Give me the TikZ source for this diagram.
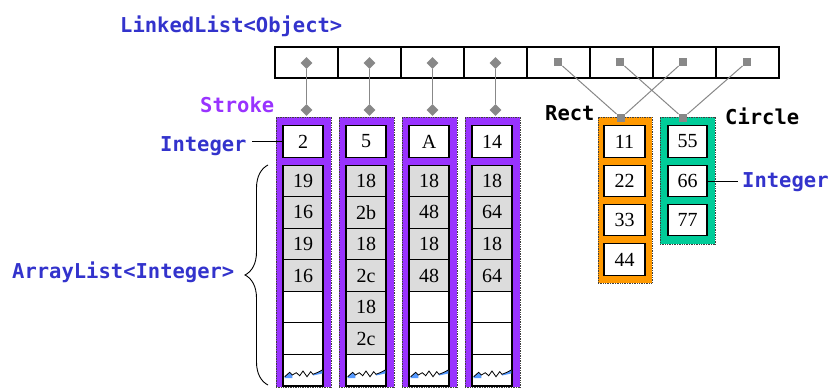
\documentclass[tikz,border=0pt]{standalone}
\usepackage{fontspec}
\setmainfont{Liberation Serif}
\setmonofont{DejaVu Sans Mono}
\usetikzlibrary{shapes.geometric,decorations.pathreplacing}
\definecolor{lblblue}{HTML}{3333CC}
\definecolor{strokepurple}{HTML}{9933FF}
\definecolor{rectorange}{HTML}{FF9900}
\definecolor{circteal}{HTML}{00CC99}
\definecolor{cellgray}{HTML}{DCDCDC}
\definecolor{linkgray}{HTML}{888888}
\definecolor{zigblue}{HTML}{5599FF}

\begin{document}
\begin{tikzpicture}[x=1pt,y=-1pt,
  lbl/.style={font=\fontsize{20.5}{24}\selectfont\ttfamily\bfseries, inner sep=0pt, anchor=base west},
  llcell/.style={draw=black, line width=1.1pt, minimum width=63pt, minimum height=31pt, inner sep=0pt},
  holder/.style={draw=black!75, densely dotted, line width=0.7pt, inner sep=0pt},
  cell/.style={draw=black, line width=1.1pt, fill=white, minimum width=40pt, minimum height=31.5pt,
    inner sep=0pt, font=\fontsize{20}{22}\selectfont},
  gcell/.style={cell, fill=cellgray},
  dia/.style={diamond, fill=linkgray, inner sep=0pt, minimum size=12pt},
  sq/.style={rectangle, fill=linkgray, inner sep=0pt, minimum size=8.5pt},
  link/.style={draw=linkgray, line width=1.4pt},
  xlink/.style={draw=linkgray, line width=1pt},
  zig/.style={line width=0.8pt, line join=miter}
]
\useasboundingbox (0,0) rectangle (830,388);

% ---- LinkedList<Object> row ----
\node[lbl, text=lblblue] (llname) at (120,32) {LinkedList<Object>};
\foreach \i in {0,...,7}
  \node[llcell] (ll\i) at ({306.5+63*\i},62.5) {};

% ---- Stroke holders ----
\foreach \i in {0,...,3} {
  \node[holder, fill=strokepurple, minimum width=55pt, minimum height=270pt]
    (s\i) at ({276+63*\i+27.5},252) {};
  \node[dia] (dt\i) at ({306.5+63*\i},63) {};
  \node[dia] (db\i) at ({306.5+63*\i},110) {};
  \draw[link] (dt\i) -- (db\i);
}
\node[lbl, text=strokepurple] (strokelbl) at (200,112) {Stroke};

% header integers
\node[cell] (h0) at (303,141.5) {2};
\node[cell] (h1) at (366,141.5) {5};
\node[cell] (h2) at (429,141.5) {A};
\node[cell] (h3) at (492,141.5) {14};

% array cells, column 0
\node[gcell] (a00) at (303,180.8) {19};
\node[gcell] (a01) at (303,212.4) {16};
\node[gcell] (a02) at (303,243.9) {19};
\node[gcell] (a03) at (303,275.5) {16};
\node[cell]  (a04) at (303,307.1) {};
\node[cell]  (a05) at (303,338.6) {};
\node[cell]  (z0)  at (303,370.2) {};
% column 1
\node[gcell] (a10) at (366,180.8) {18};
\node[gcell] (a11) at (366,212.4) {2b};
\node[gcell] (a12) at (366,243.9) {18};
\node[gcell] (a13) at (366,275.5) {2c};
\node[gcell] (a14) at (366,307.1) {18};
\node[gcell] (a15) at (366,338.6) {2c};
\node[cell]  (z1)  at (366,370.2) {};
% column 2
\node[gcell] (a20) at (429,180.8) {18};
\node[gcell] (a21) at (429,212.4) {48};
\node[gcell] (a22) at (429,243.9) {18};
\node[gcell] (a23) at (429,275.5) {48};
\node[cell]  (a24) at (429,307.1) {};
\node[cell]  (a25) at (429,338.6) {};
\node[cell]  (z2)  at (429,370.2) {};
% column 3
\node[gcell] (a30) at (492,180.8) {18};
\node[gcell] (a31) at (492,212.4) {64};
\node[gcell] (a32) at (492,243.9) {18};
\node[gcell] (a33) at (492,275.5) {64};
\node[cell]  (a34) at (492,307.1) {};
\node[cell]  (a35) at (492,338.6) {};
\node[cell]  (z3)  at (492,370.2) {};

% jagged line in the last (unused capacity) cell
\foreach \i in {0,...,3} {
  \begin{scope}[shift={({283+63*\i},0)}]
    \fill[zigblue]
      (1.7,376.7) -- (6.7,372.3) -- (9.3,375) -- (9.3,378) -- (1.7,378) -- cycle;
    \fill[zigblue]
      (30,374.3) -- (35,372.3) -- (39.3,370) -- (39.3,373.5) -- (30,375.5) -- cycle;
    \draw[zig]
      (1.7,376.7) -- (6.7,372.3) -- (9.3,375) -- (13.3,372.7) -- (16.7,375.7) -- (20,371)
      -- (24,376.7) -- (27.7,371.7) -- (30,374.3) -- (35,372.3) -- (39.3,370);
  \end{scope}
}

% labels on the left
\node[lbl, text=lblblue] (intL) at (160,151) {Integer};
\draw[line width=0.9pt] (h0.west) -- ([xshift=5pt]intL.east |- h0.west);
\node[lbl, text=lblblue] (arrL) at (12,278) {ArrayList<Integer>};
\coordinate (brtop) at (268,165);
\coordinate (brbot) at (268,385);
\draw[line width=0.9pt, decorate, decoration={brace, amplitude=23pt}] (brbot) -- (brtop);

% ---- Rect holder ----
\node[holder, fill=rectorange, minimum width=54pt, minimum height=166pt] (rect) at (625,200) {};
\node[cell, minimum width=41pt] (r1) at (624.5,141.5) {11};
\node[cell, minimum width=41pt] (r2) at (624.5,181) {22};
\node[cell, minimum width=41pt] (r3) at (624.5,220) {33};
\node[cell, minimum width=41pt] (r4) at (624.5,259.5) {44};
\node[lbl] (rectlbl) at (545,120) {Rect};

% ---- Circle holder ----
\node[holder, fill=circteal, minimum width=55pt, minimum height=127pt] (circ) at (687.5,180.5) {};
\node[cell, minimum width=39pt] (c1) at (687.5,141.5) {55};
\node[cell, minimum width=39pt] (c2) at (687.5,181) {66};
\node[cell, minimum width=39pt] (c3) at (687.5,220) {77};
\node[lbl] (circlbl) at (725,124) {Circle};
\node[lbl, text=lblblue] (intR) at (742,187) {Integer};
\draw[line width=0.9pt] (c2.east) -- ([xshift=-4pt]intR.west |- c2.east);

% ---- crossing references from the list ----
\node[sq] (t4) at (558,62) {};
\node[sq] (t5) at (620,62) {};
\node[sq] (t6) at (683,62) {};
\node[sq] (t7) at (747,62) {};
\node[sq] (rs) at (621,118) {};
\node[sq] (cs) at (683,118) {};
\draw[xlink] (t4) -- (rs);
\draw[xlink] (t6) -- (rs);
\draw[xlink] (t5) -- (cs);
\draw[xlink] (t7) -- (cs);
\end{tikzpicture}
\end{document}
